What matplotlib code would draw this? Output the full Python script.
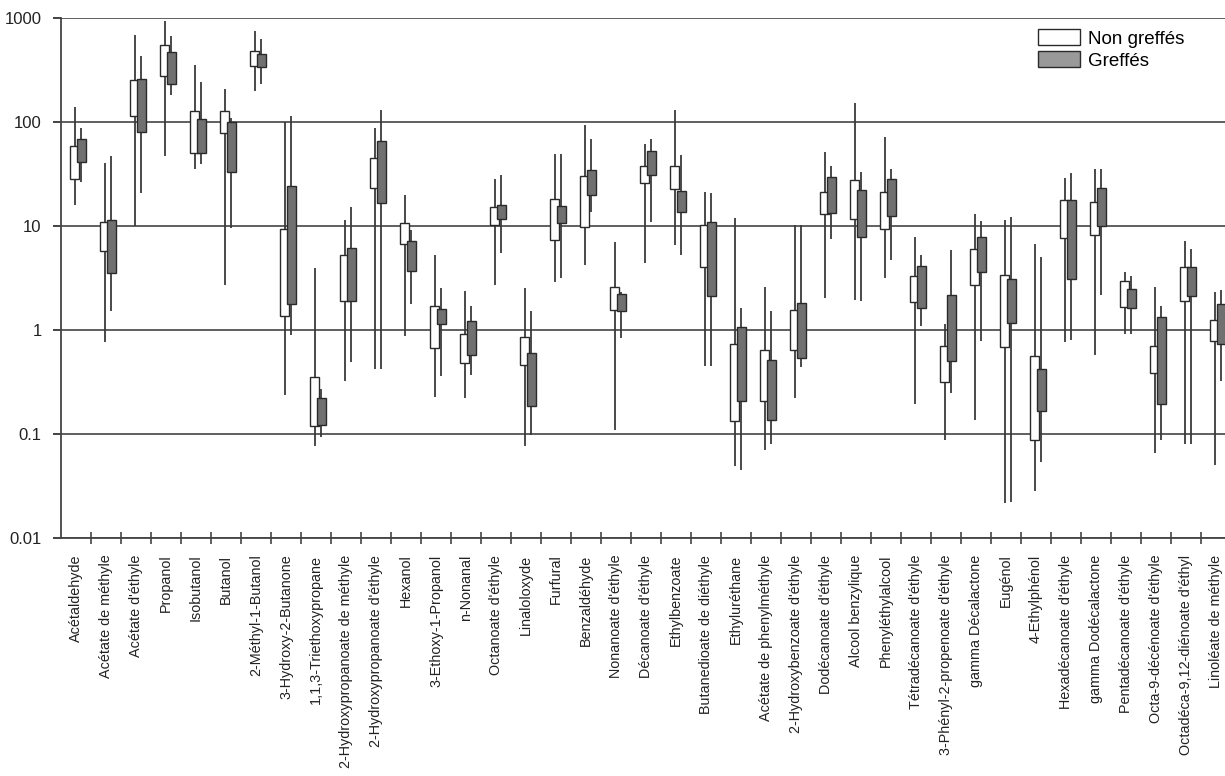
import matplotlib
matplotlib.use("Agg")
import matplotlib.pyplot as plt
from matplotlib.patches import Patch
import numpy as np

plt.rcParams['font.family'] = ['Liberation Sans', 'DejaVu Sans']

compounds = [
    "Acétaldehyde", "Acétate de méthyle", "Acétate d'éthyle", "Propanol",
    "Isobutanol", "Butanol", "2-Méthyl-1-Butanol", "3-Hydroxy-2-Butanone",
    "1,1,3-Triethoxypropane", "2-Hydroxypropanoate de méthyle",
    "2-Hydroxypropanoate d'éthyle", "Hexanol", "3-Ethoxy-1-Propanol",
    "n-Nonanal", "Octanoate d'éthyle", "Linaloloxyde", "Furfural",
    "Benzaldéhyde", "Nonanoate d'éthyle", "Décanoate d'éthyle",
    "Ethylbenzoate", "Butanedioate de diéthyle", "Ethyluréthane",
    "Acétate de phenylméthyle", "2-Hydroxybenzoate d'éthyle",
    "Dodécanoate d'éthyle", "Alcool benzylique", "Phenyléthylalcool",
    "Tétradécanoate d'éthyle", "3-Phényl-2-propenoate d'éthyle",
    "gamma Décalactone", "Eugénol", "4-Ethylphénol",
    "Hexadécanoate d'éthyle", "gamma Dodécalactone",
    "Pentadécanoate d'éthyle", "Octa-9-décénoate d'éthyle",
    "Octadéca-9,12-diénoate d'éthyl", "Linoléate de méthyle",
]

# Non greffés: whisker low, box low, box high, whisker high
ng_lo = [16.0, 0.77, 9.9, 47.4, 35.7, 2.7, 197, 0.237, 0.077, 0.321,
         0.42, 0.885, 0.228, 0.22, 2.7, 0.077, 2.88, 4.2, 0.11, 4.36,
         6.5, 0.453, 0.0496, 0.070, 0.22, 2.03, 1.93, 3.16, 0.196, 0.088,
         0.136, 0.0218, 0.028, 0.77, 0.578, 0.92, 0.065, 0.081, 0.050]
ng_q1 = [28.4, 5.7, 114, 274, 50, 78.9, 344, 1.35, 0.119, 1.90,
         23.0, 6.68, 0.673, 0.48, 10.3, 0.463, 7.3, 9.7, 1.57, 25.7,
         22.6, 4.04, 0.134, 0.208, 0.64, 13.0, 11.8, 9.4, 1.85, 0.314,
         2.7, 0.69, 0.088, 7.6, 8.2, 1.66, 0.383, 1.90, 0.79]
ng_q3 = [58.2, 11.0, 253, 556, 128, 128, 484, 9.4, 0.355, 5.27,
         44.6, 10.7, 1.72, 0.91, 15.4, 0.865, 18.0, 30.0, 2.61, 37.7,
         37.7, 10.2, 0.73, 0.64, 1.56, 21.3, 27.8, 21.3, 3.34, 0.70,
         6.04, 3.41, 0.56, 17.9, 16.9, 2.93, 0.70, 4.07, 1.24]
ng_hi = [140, 40.6, 683, 941, 357, 206, 754, 100, 3.97, 11.3,
         87.2, 20.0, 5.3, 2.38, 28.4, 2.55, 49.2, 92.6, 7.0, 61.9,
         131, 21.3, 12.0, 2.61, 10.2, 51.1, 151, 72.1, 7.9, 1.13,
         13.0, 11.5, 6.7, 28.9, 35.5, 3.63, 2.61, 7.2, 2.34]

# Greffés
gr_lo = [26.7, 1.53, 20.8, 180, 39.2, 9.5, 231, 0.90, 0.093, 0.489,
         0.42, 1.79, 0.36, 0.37, 5.5, 0.098, 3.16, 13.5, 0.845, 11.0,
         5.27, 0.453, 0.0453, 0.081, 0.443, 7.5, 1.88, 4.73, 1.09, 0.246,
         0.78, 0.022, 0.054, 0.80, 2.16, 0.92, 0.088, 0.081, 0.321]
gr_q1 = [41.6, 3.5, 79.6, 231, 50.3, 33.1, 336, 1.76, 0.122, 1.90,
         16.7, 3.68, 1.13, 0.58, 11.6, 0.185, 10.7, 19.7, 1.53, 30.7,
         13.7, 2.11, 0.208, 0.137, 0.535, 13.3, 7.9, 12.4, 1.62, 0.50,
         3.6, 1.17, 0.166, 3.09, 10.1, 1.62, 0.196, 2.11, 0.74]
gr_q3 = [69.4, 11.5, 259, 473, 108, 100, 453, 24.4, 0.224, 6.14,
         65.3, 7.2, 1.59, 1.22, 16.0, 0.60, 15.7, 34.9, 2.21, 53.1,
         21.8, 10.9, 1.07, 0.51, 1.81, 29.5, 22.4, 28.6, 4.13, 2.16,
         7.8, 3.09, 0.426, 17.9, 23.0, 2.46, 1.34, 4.07, 1.76]
gr_hi = [87.2, 46.7, 432, 673, 244, 109, 623, 114, 0.272, 15.3,
         131, 9.2, 2.55, 1.69, 30.7, 1.53, 49, 68.3, 2.33, 68.3,
         48.1, 20.8, 1.63, 1.53, 10.2, 37.7, 32.9, 35.5, 5.25, 5.9,
         11.1, 12.2, 5.07, 32.4, 35.5, 3.34, 1.69, 6.0, 2.41]

x = np.arange(len(compounds))
w = 0.30
line_c = "#3a3a3a"

fig = plt.figure(figsize=(12.25, 7.76), dpi=100)
ax = fig.add_axes([0.0498, 0.3067, 1 - 0.0498, 0.9768 - 0.3067])

ax.set_yscale("log")
ax.set_ylim(0.01, 1000)
ax.set_xlim(-0.5, 38.3)

# non greffés (white) first, greffés (grey) drawn over
ax.vlines(x - 0.05, ng_lo, ng_hi, color=line_c, lw=1.3, zorder=2)
ax.bar(x - 0.05, np.array(ng_q3) - np.array(ng_q1), bottom=ng_q1, width=w,
       color="white", edgecolor="#2a2a2a", linewidth=1.0, zorder=3)
ax.vlines(x + 0.17, gr_lo, gr_hi, color=line_c, lw=1.3, zorder=4)
ax.bar(x + 0.17, np.array(gr_q3) - np.array(gr_q1), bottom=gr_q1, width=w,
       color="#707070", edgecolor="#2a2a2a", linewidth=1.0, zorder=5)

ax.yaxis.grid(True, which="major", color="#444444", lw=1.2)
ax.set_axisbelow(True)
ax.set_yticks([0.01, 0.1, 1, 10, 100, 1000])
ax.set_yticklabels(["0.01", "0.1", "1", "10", "100", "1000"])
ax.yaxis.set_minor_locator(matplotlib.ticker.NullLocator())
ax.tick_params(axis="y", length=6, width=1.2, pad=8, labelsize=12,
               colors="#222222")

ax.set_xticks(x)
ax.set_xticklabels(compounds, rotation=90, fontsize=10.4, color="#222222")
ax.set_xticks(x[:-1] + 0.5, minor=True)
ax.tick_params(axis="x", which="major", length=0, pad=12)
ax.tick_params(axis="x", which="minor", length=8, width=1.2,
               direction="inout", color="#444444")

for s in ["top", "right"]:
    ax.spines[s].set_visible(False)
ax.spines["left"].set_color("#444444")
ax.spines["bottom"].set_color("#444444")
ax.spines["left"].set_linewidth(1.3)
ax.spines["bottom"].set_linewidth(1.3)

handles = [Patch(facecolor="white", edgecolor="#2a2a2a", label="Non greffés"),
           Patch(facecolor="#999999", edgecolor="#2a2a2a", label="Greffés")]
fig.legend(handles=handles, loc="upper left", bbox_to_anchor=(0.847, 0.962),
           frameon=False, fontsize=13.5, handlelength=2.25, handleheight=0.9,
           handletextpad=0.45, labelspacing=0.2, borderpad=0,
           borderaxespad=0)

fig.savefig("out.png", dpi=100, facecolor="white")
